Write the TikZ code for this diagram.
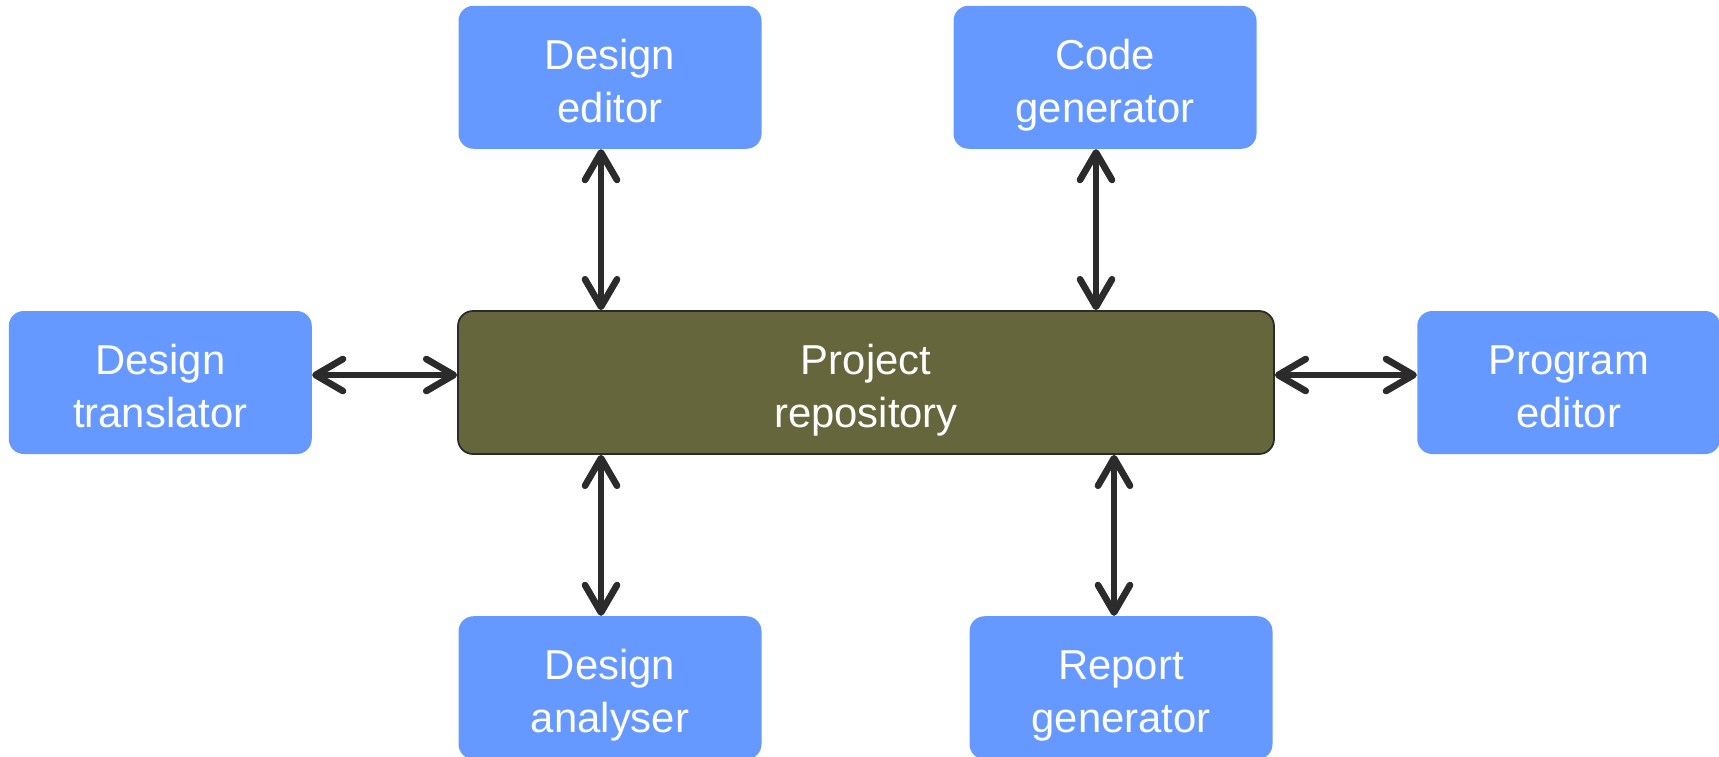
\documentclass[tikz,border=0pt]{standalone}
\usepackage{fontspec}
\setmainfont{Liberation Sans}
\usetikzlibrary{arrows.meta, positioning}
\definecolor{toolblue}{RGB}{102,153,255}
\definecolor{repoolive}{RGB}{102,102,61}
\definecolor{arrowgrey}{RGB}{43,43,43}
\tikzset{
  tool/.style={rectangle, rounded corners=3mm, fill=toolblue, text=white, align=center, inner sep=0pt, text height=18mm, text depth=0pt, minimum width=6.06cm, minimum height=2.86cm, font=\fontsize{23.8}{30.2}\selectfont},
  repo/.style={tool, fill=repoolive, draw=arrowgrey, line width=1pt, minimum width=16.32cm},
  biarrow/.style={{Straight Barb[length=5.5mm, width=6.4mm, round]}-{Straight Barb[length=5.5mm, width=6.4mm, round]}, line width=3.8pt, draw=arrowgrey}
}
\begin{document}
\begin{tikzpicture}
\useasboundingbox (0,0) rectangle (34.38,-15.12);

\node[repo] (rep) at (17.32,-7.65) {Project\\repository};

\node[tool, above=3.22cm of rep, xshift=-5.12cm] (ed) {Design\\editor};
\node[tool, above=3.22cm of rep, xshift=4.78cm] (cg) {Code\\generator};
\node[tool, left=2.9cm of rep] (dt) {Design\\translator};
\node[tool, right=2.84cm of rep] (pe) {Program\\editor};
\node[tool, below=3.22cm of rep, xshift=-5.12cm] (da) {Design\\analyser};
\node[tool, below=3.22cm of rep, xshift=5.1cm] (rg) {Report\\generator};

\draw[biarrow] ([xshift=-1.8mm]ed.south) -- ([xshift=-1.8mm]ed.south |- rep.north);
\draw[biarrow] ([xshift=-1.8mm]cg.south) -- ([xshift=-1.8mm]cg.south |- rep.north);
\draw[biarrow] ([xshift=-1.8mm]da.north) -- ([xshift=-1.8mm]da.north |- rep.south);
\draw[biarrow] ([xshift=-1.4mm]rg.north) -- ([xshift=-1.4mm]rg.north |- rep.south);
\draw[biarrow] ([yshift=1.5mm]dt.east) -- ([yshift=1.5mm]rep.west);
\draw[biarrow] ([yshift=1.5mm]rep.east) -- ([yshift=1.5mm]pe.west);

\end{tikzpicture}
\end{document}
